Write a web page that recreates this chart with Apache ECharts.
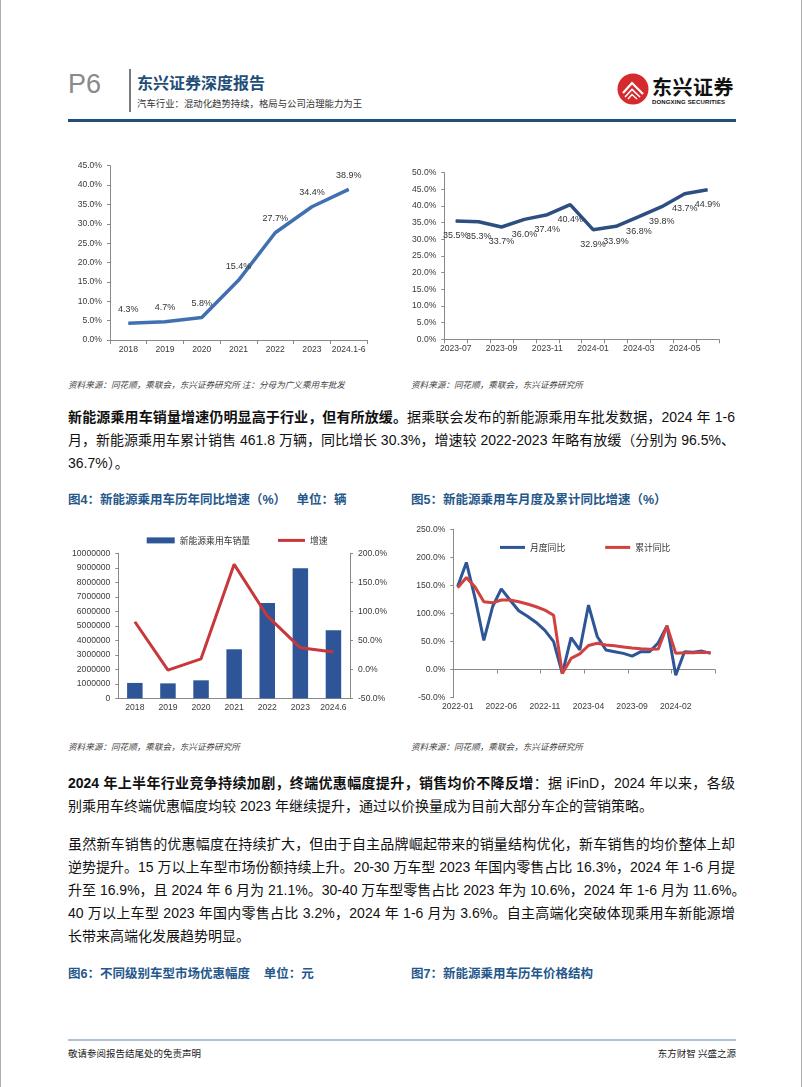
<!DOCTYPE html>
<html><head><meta charset="utf-8">
<script src="https://cdn.jsdelivr.net/npm/echarts@6.0.0/dist/echarts.min.js"></script>
<style>
html,body{margin:0;padding:0;background:#fff;}
#page{position:relative;width:802px;height:1087px;overflow:hidden;background:#fff;font-family:"Liberation Sans","Noto Sans CJK SC",sans-serif;color:#111;}
.abs{position:absolute;}
.line{position:absolute;left:68px;width:667px;height:23px;line-height:23px;font-size:14px;white-space:nowrap;}
.j{text-align:justify;text-align-last:justify;}
.src{position:absolute;font-size:8.6px;font-style:italic;color:#444;white-space:nowrap;font-family:"Noto Sans CJK SC",sans-serif;}
.ttl{position:absolute;font-size:12.5px;font-weight:700;color:#25578A;white-space:nowrap;font-family:"Liberation Sans","Noto Sans CJK SC",sans-serif;}
.chart{position:absolute;}
b{font-weight:700;}
</style></head>
<body>
<div id="page">
  <div class="abs" style="left:0;top:0;width:1px;height:1087px;background:#b0b0b0"></div>
  <div class="abs" style="left:801px;top:0;width:1px;height:1087px;background:#b0b0b0"></div>

  <!-- header -->
  <div class="abs" style="left:68px;top:68px;font-size:27px;color:#8a8a8a;font-family:'Liberation Sans',sans-serif;line-height:32px;">P6</div>
  <div class="abs" style="left:129px;top:69px;width:1.5px;height:43px;background:#7a7a7a"></div>
  <div class="abs" style="left:137px;top:71px;font-size:16px;font-weight:700;color:#1F4E79;font-family:'Noto Sans CJK SC',sans-serif;line-height:22px;">东兴证券深度报告</div>
  <div class="abs" style="left:137px;top:96px;font-size:9.4px;color:#333;font-family:'Noto Sans CJK SC',sans-serif;line-height:14px;">汽车行业：混动化趋势持续，格局与公司治理能力为王</div>
  <svg class="abs" style="left:617px;top:73px" width="32" height="32" viewBox="0 0 32 32">
    <circle cx="16" cy="16" r="15.5" fill="#D52B2F"/>
    <polyline points="6,20 15,10 26,21" fill="none" stroke="#fff" stroke-width="2.2"/>
    <polyline points="8,24 15,16.5 23,24" fill="none" stroke="#fff" stroke-width="1.6"/>
    <polyline points="11,26 15,21.5 20,26" fill="none" stroke="#fff" stroke-width="1.4"/>
  </svg>
  <div class="abs" style="left:652px;top:75px;font-size:20px;font-weight:700;color:#111;font-family:'Noto Sans CJK SC',sans-serif;line-height:24px;letter-spacing:0.5px;">东兴证券</div>
  <div class="abs" style="left:652px;top:98px;font-size:6px;font-weight:700;color:#111;font-family:'Liberation Sans',sans-serif;line-height:8px;letter-spacing:0.15px;">DONGXING SECURITIES</div>
  <div class="abs" style="left:68px;top:119px;width:668px;height:3px;background:#1F4E79"></div>

  <!-- charts -->
  <div id="c1" class="chart" style="left:60px;top:150px;width:340px;height:220px"></div>
  <div id="c2" class="chart" style="left:400px;top:150px;width:330px;height:220px"></div>
  <div class="src" style="left:68px;top:378px;">资料来源：同花顺，乘联会，东兴证券研究所 注：分母为广义乘用车批发</div>
  <div class="src" style="left:411px;top:378px;">资料来源：同花顺，乘联会，东兴证券研究所</div>

  <div class="line j" style="top:406px"><b>新能源乘用车销量增速仍明显高于行业，但有所放缓。</b>据乘联会发布的新能源乘用车批发数据，2024 年 1-6</div>
  <div class="line j" style="top:429px">月，新能源乘用车累计销售 461.8 万辆，同比增长 30.3%，增速较 2022-2023 年略有放缓（分别为 96.5%、</div>
  <div class="line" style="top:452px">36.7%）。</div>

  <div class="ttl" style="left:68px;top:489px;">图4：新能源乘用车历年同比增速（%）&nbsp;&nbsp;&nbsp;单位：辆</div>
  <div class="ttl" style="left:411px;top:489px;">图5：新能源乘用车月度及累计同比增速（%）</div>

  <div id="c4" class="chart" style="left:60px;top:520px;width:340px;height:200px"></div>
  <div id="c5" class="chart" style="left:400px;top:520px;width:330px;height:200px"></div>
  <div class="src" style="left:68px;top:740px;">资料来源：同花顺，乘联会，东兴证券研究所</div>
  <div class="src" style="left:411px;top:740px;">资料来源：同花顺，乘联会，东兴证券研究所</div>

  <div class="line j" style="top:772px"><b>2024 年上半年行业竞争持续加剧，终端优惠幅度提升，销售均价不降反增</b>：据 iFinD，2024 年以来，各级</div>
  <div class="line" style="top:795px">别乘用车终端优惠幅度均较 2023 年继续提升，通过以价换量成为目前大部分车企的营销策略。</div>

  <div class="line j" style="top:833px">虽然新车销售的优惠幅度在持续扩大，但由于自主品牌崛起带来的销量结构优化，新车销售的均价整体上却</div>
  <div class="line j" style="top:856px">逆势提升。15 万以上车型市场份额持续上升。20-30 万车型 2023 年国内零售占比 16.3%，2024 年 1-6 月提</div>
  <div class="line j" style="top:879px">升至 16.9%，且 2024 年 6 月为 21.1%。30-40 万车型零售占比 2023 年为 10.6%，2024 年 1-6 月为 11.6%。</div>
  <div class="line j" style="top:902px">40 万以上车型 2023 年国内零售占比 3.2%，2024 年 1-6 月为 3.6%。自主高端化突破体现乘用车新能源增</div>
  <div class="line" style="top:925px">长带来高端化发展趋势明显。</div>

  <div class="ttl" style="left:68px;top:963px;">图6：不同级别车型市场优惠幅度&nbsp;&nbsp;&nbsp;&nbsp;单位：元</div>
  <div class="ttl" style="left:411px;top:963px;">图7：新能源乘用车历年价格结构</div>

  <!-- footer -->
  <div class="abs" style="left:68px;top:1039px;width:668px;height:2px;background:#AFC1D3"></div>
  <div class="abs" style="left:68px;top:1046px;font-size:9.5px;color:#222;font-family:'Noto Sans CJK SC',sans-serif;line-height:14px;">敬请参阅报告结尾处的免责声明</div>
  <div class="abs" style="left:600px;width:136px;text-align:right;top:1046px;font-size:9.5px;color:#222;font-family:'Noto Sans CJK SC',sans-serif;line-height:14px;">东方财智 兴盛之源</div>
</div>

<script>
// ---- data ----
const years1 = ['2018','2019','2020','2021','2022','2023','2024.1-6'];
const share1 = [4.3, 4.7, 5.8, 15.4, 27.7, 34.4, 38.9];

const months2 = ['2023-07','2023-08','2023-09','2023-10','2023-11','2023-12','2024-01','2024-02','2024-03','2024-04','2024-05','2024-06'];
const share2 = [35.5, 35.3, 33.7, 36.0, 37.4, 40.4, 32.9, 33.9, 36.8, 39.8, 43.7, 44.9];

const years4 = ['2018','2019','2020','2021','2022','2023','2024.6'];
const sales4 = [1060000, 1030000, 1240000, 3380000, 6570000, 8970000, 4700000];
const growth4 = [82, -1.5, 18, 181, 92, 37, 30];

const months5 = ['2022-01','2022-02','2022-03','2022-04','2022-05','2022-06','2022-07','2022-08','2022-09','2022-10','2022-11','2022-12',
  '2023-01','2023-02','2023-03','2023-04','2023-05','2023-06','2023-07','2023-08','2023-09','2023-10','2023-11','2023-12',
  '2024-01','2024-02','2024-03','2024-04','2024-05','2024-06'];
const monthly5 = [148, 191, 127, 52, 112, 144, 124, 105, 95, 84, 70, 50,
  -7, 57, 35, 115, 59, 35, 32, 29, 24, 32, 32, 48,
  78, -10, 32, 31, 33, 29];
const cumul5 = [146, 164, 147, 121, 119, 124, 124, 121, 117, 112, 106, 97,
  -7, 20, 28, 43, 47, 44, 42.5, 40.5, 38.5, 37, 36.5, 36.7,
  78, 29, 30, 30, 31, 30.3];

// ---- styles ----
const AX = '#8a8a8a';
const FS = 8.6;
const LBL = {color:'#3a3a3a', fontSize:FS, fontFamily:'Liberation Sans, Arial, sans-serif'};
const pct1 = v => v.toFixed(1) + '%';
function catAxis(data, extra){
  return Object.assign({
    type:'category', data:data, boundaryGap:true,
    axisLine:{show:true, lineStyle:{color:AX, width:1}},
    axisTick:{show:true, interval:0, length:4, lineStyle:{color:AX}},
    axisLabel:Object.assign({margin:5, interval:0}, LBL),
    splitLine:{show:false}
  }, extra||{});
}
function valAxis(min,max,interval,fmt,extra){
  return Object.assign({
    type:'value', min:min, max:max, interval:interval,
    axisLine:{show:true, lineStyle:{color:AX, width:1}},
    axisTick:{show:true, length:3, lineStyle:{color:AX}},
    axisLabel:Object.assign({margin:8, formatter:fmt}, LBL),
    splitLine:{show:false}
  }, extra||{});
}
const dataLabel = (pos, dist) => ({show:true, position:pos, distance:dist,
  formatter:p=>p.value.toFixed(1)+'%', color:'#333', fontSize:9, fontFamily:'Liberation Sans, Arial, sans-serif'});

// chart 1
echarts.init(document.getElementById('c1')).setOption({
  animation:false,
  grid:{left:50, top:15.7, width:257, height:174.3, containLabel:false},
  xAxis:catAxis(years1),
  yAxis:valAxis(0,45,5,pct1),
  series:[{type:'line', data:share1, symbol:'circle', symbolSize:1, showSymbol:true,
    lineStyle:{color:'#4170B0', width:3.5}, itemStyle:{color:'#4170B0'},
    label:dataLabel('top', 9)}]
});

// chart 2
echarts.init(document.getElementById('c2')).setOption({
  animation:false,
  grid:{left:44.3, top:22.7, width:274.7, height:166.6, containLabel:false},
  xAxis:catAxis(months2, {axisLabel:Object.assign({margin:5, interval:1}, LBL)}),
  yAxis:valAxis(0,50,5,pct1),
  series:[{type:'line', data:share2, symbol:'circle', symbolSize:1, showSymbol:true,
    lineStyle:{color:'#2D4E80', width:3.5}, itemStyle:{color:'#2D4E80'},
    label:dataLabel('bottom', 10)}]
});

// chart 4
const legTxt = {color:'#333', fontSize:8.8, fontFamily:'Noto Sans CJK SC, sans-serif'};
echarts.init(document.getElementById('c4')).setOption({
  animation:false,
  legend:[
    {data:['新能源乘用车销量'], left:81.7, top:11, itemWidth:28, itemHeight:6, icon:'rect', textStyle:legTxt},
    {data:['增速'], left:213, top:11, itemWidth:27, itemHeight:3, icon:'rect', textStyle:legTxt}
  ],
  grid:{left:58.3, top:33.3, width:231.7, height:145, containLabel:false},
  xAxis:catAxis(years4, {axisTick:{show:false}}),
  yAxis:[
    valAxis(0,10000000,1000000,v=>String(v)),
    valAxis(-50,200,50,pct1,{position:'right'})
  ],
  series:[
    {name:'新能源乘用车销量', type:'bar', data:sales4, barWidth:15.5, itemStyle:{color:'#2E5597'}},
    {name:'增速', type:'line', yAxisIndex:1, data:growth4, symbol:'none', lineStyle:{color:'#C8373B', width:3}, itemStyle:{color:'#C8373B'}}
  ]
});

// chart 5
echarts.init(document.getElementById('c5')).setOption({
  animation:false,
  legend:{data:['月度同比','累计同比'], left:95, top:18, itemWidth:25, itemHeight:3, icon:'rect', itemGap:40, textStyle:legTxt},
  grid:{left:53.3, top:9.3, width:261.7, height:168.4, containLabel:false},
  xAxis:catAxis(months5, {
    axisLine:{show:true, onZero:true, lineStyle:{color:AX, width:1}},
    axisTick:{show:true, interval:4, length:4, lineStyle:{color:AX}},
    axisLabel:Object.assign({margin:4, interval:4}, LBL)}),
  yAxis:valAxis(-50,250,50,pct1),
  series:[
    {name:'月度同比', type:'line', data:monthly5, symbol:'none', lineStyle:{color:'#2E5597', width:3}, itemStyle:{color:'#2E5597'}},
    {name:'累计同比', type:'line', data:cumul5, symbol:'none', lineStyle:{color:'#D0413F', width:3}, itemStyle:{color:'#D0413F'}}
  ]
});
</script>
</body></html>
